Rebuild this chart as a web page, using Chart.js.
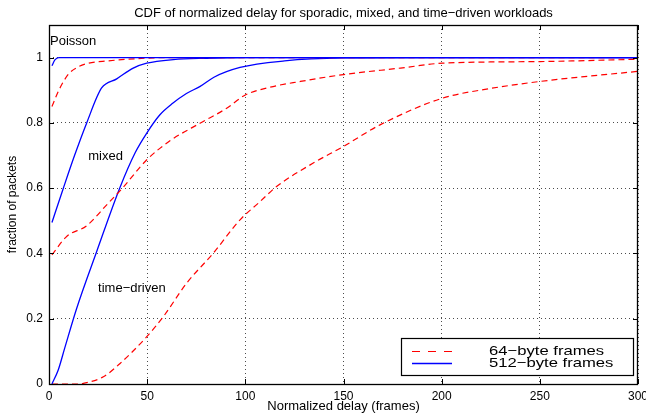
<!DOCTYPE html>
<html><head><meta charset="utf-8">
<script src="https://cdn.jsdelivr.net/npm/chart.js@4/dist/chart.umd.min.js"></script>
<style>html,body{margin:0;padding:0;background:#fff}</style>
</head><body>
<canvas id="c" width="646" height="414"></canvas>
<script>
// ---- data ----
const poisson512X = [1.5, 3, 5, 300];
const poisson512Y = [0.975, 0.993, 1.0, 1.0];
const poisson64X = [1.5, 5, 10, 15, 20, 30, 45, 60, 300];
const poisson64Y = [0.85, 0.9, 0.95, 0.972, 0.983, 0.99, 0.997, 1.0, 1.0];
const mixed512X = [1.5, 7.3, 13, 19.2, 26.8, 34.5, 42.9, 49.8, 63.3, 80, 100, 300];
const mixed512Y = [0.495, 0.6, 0.7, 0.8, 0.907, 0.935, 0.968, 0.983, 0.994, 0.998, 1.0, 1.0];
const mixed64X = [1.5, 9, 19.2, 29.4, 37.8, 49.8, 61.6, 76.9, 90.5, 99.8, 110.9, 128, 150, 179, 200.5, 250, 300];
const mixed64Y = [0.396, 0.452, 0.485, 0.549, 0.603, 0.687, 0.745, 0.799, 0.845, 0.885, 0.907, 0.927, 0.948, 0.968, 0.983, 0.988, 0.995];
const timed512X = [1.5, 4.7, 8, 14, 24.3, 36, 44, 49.8, 56.5, 63, 70, 77, 84, 97.3, 120, 150, 180, 300];
const timed512Y = [0, 0.043, 0.11, 0.23, 0.406, 0.6, 0.71, 0.769, 0.825, 0.86, 0.89, 0.912, 0.94, 0.97, 0.99, 0.999, 1.0, 1.0];
const timed64X = [1.5, 15, 17.5, 27.7, 36.2, 49.8, 58.2, 70.1, 83.7, 97.3, 106.6, 115.9, 134.6, 150, 168.6, 200.5, 221.3, 250, 300];
const timed64Y = [0, 0, 0.002, 0.022, 0.063, 0.145, 0.206, 0.309, 0.401, 0.503, 0.554, 0.605, 0.677, 0.728, 0.794, 0.876, 0.902, 0.927, 0.958];

const xTicks = [0, 50, 100, 150, 200, 250, 300];
const yTicks = [0, 0.2, 0.4, 0.6, 0.8, 1];
const yTickLabels = ['0', '0.2', '0.4', '0.6', '0.8', '1'];
const legendLabels = ['64\u2212byte frames', '512\u2212byte frames'];
const noteTexts = ['Poisson', 'mixed', 'time\u2212driven'];
const noteX = [0.5, 20, 25];
const noteY = [1.049, 0.696, 0.294];

const FONT = 'Liberation Sans, Arial, Helvetica, sans-serif';
const RED = '#ff0000', BLUE = '#0000ff';

function pts(xs, ys) { return xs.map((x, i) => ({x: x, y: ys[i]})); }
function redSet(xs, ys) {
  return {data: pts(xs, ys), borderColor: RED, borderWidth: 1.2, borderDash: [6, 4],
          pointRadius: 0, fill: false, cubicInterpolationMode: 'monotone'};
}
function blueSet(xs, ys) {
  return {data: pts(xs, ys), borderColor: BLUE, borderWidth: 1.3,
          pointRadius: 0, fill: false, cubicInterpolationMode: 'monotone'};
}

const decor = {
  id: 'decor',
  afterDraw(chart) {
    const ctx = chart.ctx, a = chart.chartArea;
    const xs = chart.scales.x, ys = chart.scales.y;
    ctx.save();
    // inward tick marks
    ctx.strokeStyle = '#000'; ctx.lineWidth = 1; ctx.setLineDash([]);
    ctx.beginPath();
    xTicks.forEach(v => {
      const px = Math.round(xs.getPixelForValue(v)) + 0.5;
      ctx.moveTo(px, a.bottom); ctx.lineTo(px, a.bottom - 5);
      ctx.moveTo(px, a.top); ctx.lineTo(px, a.top + 5);
    });
    yTicks.forEach(v => {
      const py = Math.round(ys.getPixelForValue(v)) + 0.5;
      ctx.moveTo(a.left, py); ctx.lineTo(a.left + 5, py);
      ctx.moveTo(a.right, py); ctx.lineTo(a.right - 5, py);
    });
    ctx.stroke();
    // box
    ctx.lineWidth = 1.3;
    ctx.strokeRect(a.left + 0.5, a.top + 0.5, a.right - a.left - 1, a.bottom - a.top);
    // annotations
    ctx.fillStyle = '#000';
    ctx.font = '13px ' + FONT;
    ctx.textBaseline = 'middle'; ctx.textAlign = 'left';
    noteTexts.forEach((t, i) => {
      ctx.fillText(t, xs.getPixelForValue(noteX[i]), ys.getPixelForValue(noteY[i]));
    });
    // legend
    const bx = a.right - 237, by = a.bottom - 46, bw = 232, bh = 37;
    ctx.fillStyle = '#fff';
    ctx.fillRect(bx, by, bw, bh);
    ctx.strokeStyle = '#000'; ctx.lineWidth = 1.2;
    ctx.strokeRect(bx + 0.5, by + 0.5, bw, bh);
    const rows = [by + 13.5, by + 25.5];
    const colors = [RED, BLUE];
    rows.forEach((ry, i) => {
      ctx.strokeStyle = colors[i];
      ctx.lineWidth = i === 0 ? 1.2 : 1.5;
      ctx.setLineDash(i === 0 ? [8, 8] : []);
      ctx.beginPath(); ctx.moveTo(bx + 11, ry); ctx.lineTo(bx + 51, ry); ctx.stroke();
      ctx.setLineDash([]);
      ctx.save();
      ctx.translate(bx + 88, ry);
      ctx.scale(1.28, 1);
      ctx.fillStyle = '#000';
      ctx.font = '13px ' + FONT;
      ctx.textBaseline = 'middle';
      ctx.fillText(legendLabels[i], 0, 0);
      ctx.restore();
    });
    ctx.restore();
  }
};

new Chart(document.getElementById('c'), {
  type: 'line',
  data: {datasets: [
    blueSet(poisson512X, poisson512Y), redSet(poisson64X, poisson64Y),
    blueSet(mixed512X, mixed512Y), redSet(mixed64X, mixed64Y),
    blueSet(timed512X, timed512Y), redSet(timed64X, timed64Y)
  ]},
  options: {
    responsive: false, animation: false, devicePixelRatio: 1,
    layout: {padding: {left: 0, right: 8, top: 0, bottom: 0}},
    plugins: {
      legend: {display: false}, tooltip: {enabled: false},
      title: {display: true, fullSize: false,
        text: 'CDF of normalized delay for sporadic, mixed, and time\u2212driven workloads',
        color: '#000', font: {family: FONT, size: 13, weight: 'normal'},
        padding: {top: 6, bottom: 3.4}}
    },
    scales: {
      x: {type: 'linear', min: 0, max: 300,
        afterBuildTicks: s => { s.ticks = xTicks.map(v => ({value: v})); },
        afterFit: s => { s.height = 30; s.paddingLeft = 0; s.paddingRight = 0; },
        ticks: {color: '#000', font: {family: FONT, size: 12}, padding: 5, maxRotation: 0,
          callback: v => String(v)},
        grid: {drawTicks: false, color: 'rgba(0,0,0,0.7)', lineWidth: 1},
        border: {display: false, dash: [1, 3]},
        title: {display: true, text: 'Normalized delay (frames)', color: '#000',
          font: {family: FONT, size: 13}, padding: {top: 0, bottom: 0}}
      },
      y: {type: 'linear', min: 0, max: 1.1,
        afterBuildTicks: s => { s.ticks = yTicks.map(v => ({value: v})); },
        afterFit: s => { s.width = 49; s.paddingTop = 0; s.paddingBottom = 0; },
        ticks: {color: '#000', font: {family: FONT, size: 12}, padding: 6,
          callback: (v, i) => yTickLabels[i]},
        grid: {drawTicks: false, color: 'rgba(0,0,0,0.7)', lineWidth: 1},
        border: {display: false, dash: [1, 3]},
        title: {display: true, text: 'fraction of packets', color: '#000',
          font: {family: FONT, size: 12}, padding: {top: 5, bottom: 0}}
      }
    }
  },
  plugins: [decor]
});
</script>
</body></html>
